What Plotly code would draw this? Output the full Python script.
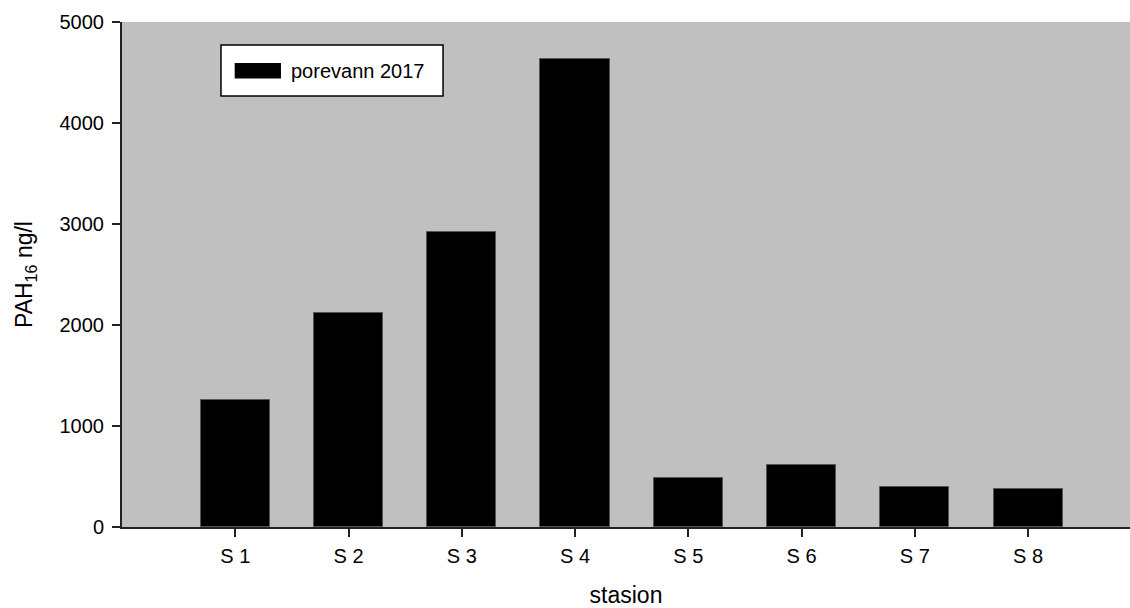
import plotly.graph_objects as go

# PAH16 in pore water per station, 2017
stations = ["S 1", "S 2", "S 3", "S 4", "S 5", "S 6", "S 7", "S 8"]
pah16_ngl = [1255, 2115, 2925, 4630, 486, 617, 396, 378]
series_name = "porevann 2017"
y_ticks = [0, 1000, 2000, 3000, 4000, 5000]

FONT = "Arial, Liberation Sans, sans-serif"

fig = go.Figure()
fig.add_trace(go.Bar(
    x=list(range(len(stations))),
    y=pah16_ngl,
    width=0.61,
    name=series_name,
    marker=dict(color="black", line=dict(color="#555555", width=1)),
    showlegend=False,
))

# boxed legend drawn in paper coordinates
fig.add_shape(type="rect", xref="paper", yref="paper",
              x0=0.0982, x1=0.3185, y0=0.8535, y1=0.9545,
              fillcolor="white", line=dict(color="black", width=1.5))
fig.add_shape(type="rect", xref="paper", yref="paper",
              x0=0.1118, x1=0.1577, y0=0.888, y1=0.919,
              fillcolor="black", line=dict(color="black", width=0))
fig.add_annotation(xref="paper", yref="paper", x=0.1660, y=0.9035,
                   xanchor="left", yanchor="middle", showarrow=False,
                   text=series_name, font=dict(family=FONT, size=20, color="black"))

fig.update_layout(
    width=1130, height=608,
    margin=dict(l=122, r=0, t=22, b=81),
    paper_bgcolor="white",
    plot_bgcolor="#c0c0c0",
    font=dict(family=FONT, color="black"),
    bargap=0,
)
fig.update_xaxes(
    range=[-1, 7.9],
    tickmode="array",
    tickvals=list(range(len(stations))),
    ticktext=stations,
    ticks="outside", ticklen=8, tickwidth=1.5, tickcolor="#222222",
    ticklabelstandoff=2,
    tickfont=dict(family=FONT, size=20, color="black"),
    showline=True, linecolor="#222222", linewidth=2,
    showgrid=False, zeroline=False,
    title=dict(text="stasion", font=dict(family=FONT, size=23, color="black"), standoff=25),
)
fig.update_yaxes(
    range=[0, 5000],
    tickmode="array",
    tickvals=y_ticks,
    ticks="outside", ticklen=8, tickwidth=1.5, tickcolor="#222222",
    ticklabelstandoff=4,
    tickfont=dict(family=FONT, size=20, color="black"),
    showline=True, linecolor="#222222", linewidth=2,
    showgrid=False, zeroline=False,
    title=dict(text="PAH<sub>16</sub> ng/l", font=dict(family=FONT, size=23, color="black"), standoff=20),
)

fig.write_html("out.html")
